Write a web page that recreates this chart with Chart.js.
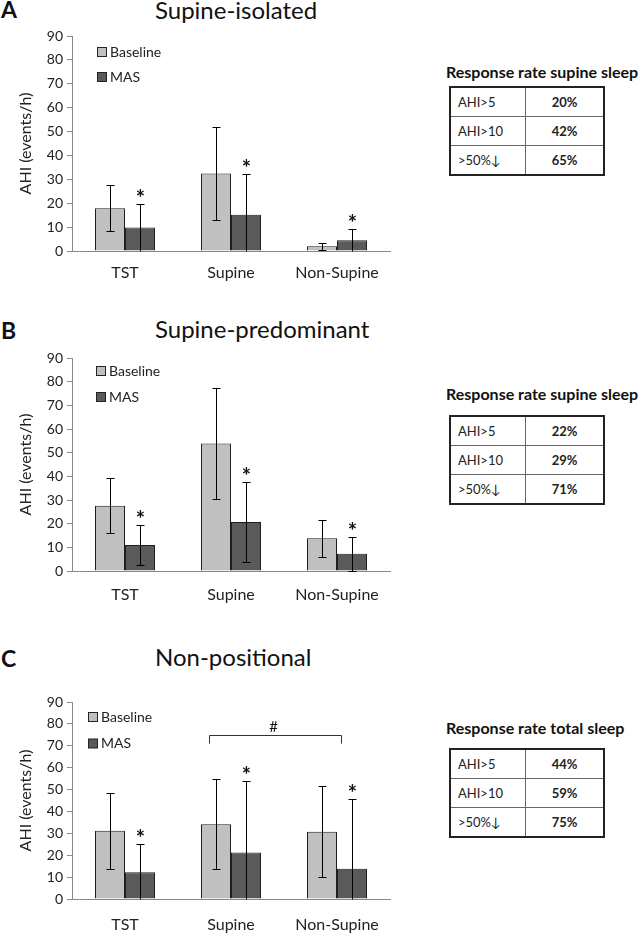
<!DOCTYPE html>
<html>
<head>
<meta charset="utf-8">
<script src="https://cdn.jsdelivr.net/npm/chart.js@4.4.0/dist/chart.umd.min.js"></script>
<style>
    body { margin: 0; width: 642px; height: 933px; position: relative; background: #fff; font-family: Lato, sans-serif; color: #111; overflow: hidden; }
    .letter { position: absolute; left: 1px; font-weight: bold; font-size: 23px; line-height: 1; }
    .title { position: absolute; left: 155px; font-size: 24px; line-height: 1; white-space: nowrap; }
    canvas { position: absolute; left: 0; }
    .rate-title { position: absolute; left: 446px; font-weight: bold; font-size: 16px; line-height: 1; white-space: nowrap; }
    table.rate { position: absolute; left: 449px; width: 156px; border-collapse: collapse; border: 2px solid #222; font-size: 13px; color: #222; }
    table.rate td { border: 1px solid #666; height: 28px; padding: 0 0 0 7px; }
    table.rate td.val { font-weight: bold; text-align: center; padding: 0; width: 77px; }
</style>
</head>
<body>

<div class="letter" style="top:-2px">A</div>
<div class="title" style="top:-2px">Supine-isolated</div>
<canvas id="chartA" width="400" height="275" style="top:16px"></canvas>
<div class="rate-title" style="top:64px">Response rate supine sleep</div>
<table class="rate" id="tableA" style="top:86px"></table>

<div class="letter" style="top:319px">B</div>
<div class="title" style="top:317px">Supine-predominant</div>
<canvas id="chartB" width="400" height="273" style="top:338px"></canvas>
<div class="rate-title" style="top:386px">Response rate supine sleep</div>
<table class="rate" id="tableB" style="top:415px"></table>

<div class="letter" style="top:647px">C</div>
<div class="title" style="top:645px">Non-positional</div>
<canvas id="chartC" width="400" height="251" style="top:682px"></canvas>
<div class="rate-title" style="top:720px">Response rate total sleep</div>
<table class="rate" id="tableC" style="top:748px"></table>

<script>
const categories = ['TST', 'Supine', 'Non-Supine'];
const yTicks = [0, 10, 20, 30, 40, 50, 60, 70, 80, 90];

// A: supine-isolated
const baselineA = [17.9, 32.4, 2.0];
const baselineErrA = [9.7, 19.6, 1.5];
const masA = [9.8, 15.2, 4.5];
const masErrA = [9.9, 17.2, 4.9];
const masSigA = [true, true, true];

// B: supine-predominant
const baselineB = [27.6, 53.9, 13.8];
const baselineErrB = [11.7, 23.4, 7.7];
const masB = [11.0, 20.7, 7.3];
const masErrB = [8.6, 16.7, 7.2];
const masSigB = [true, true, true];

// C: non-positional
const baselineC = [31.2, 34.2, 30.7];
const baselineErrC = [17.4, 20.4, 20.7];
const masC = [12.2, 21.3, 13.8];
const masErrC = [12.9, 32.7, 31.9];
const masSigC = [true, true, true];

const responseLabels = ['AHI>5', 'AHI>10', '>50%\u2193'];
const responseA = ['20%', '42%', '65%'];
const responseB = ['22%', '29%', '71%'];
const responseC = ['44%', '59%', '75%'];

const errorBarPlugin = {
    id: 'errorBars',
    afterDatasetsDraw(chart) {
        const ctx = chart.ctx;
        const yScale = chart.scales.y;
        chart.data.datasets.forEach((ds, di) => {
            const meta = chart.getDatasetMeta(di);
            meta.data.forEach((bar, i) => {
                const v = ds.data[i];
                const e = ds.errors[i];
                const low = Math.max(v - e, 0);
                const top = Math.round(yScale.getPixelForValue(v + e)) + 0.5;
                const bottom = Math.round(yScale.getPixelForValue(low)) + 0.5;
                const x = Math.round(bar.x) + 0.5;
                ctx.save();
                ctx.strokeStyle = '#000';
                ctx.lineWidth = 1;
                ctx.beginPath();
                ctx.moveTo(x, top);
                ctx.lineTo(x, bottom);
                ctx.moveTo(x - 4, top);
                ctx.lineTo(x + 4, top);
                if (low > 0) {
                    ctx.moveTo(x - 4, bottom);
                    ctx.lineTo(x + 4, bottom);
                }
                ctx.stroke();
                if (ds.significant && ds.significant[i]) {
                    ctx.fillStyle = '#111';
                    ctx.font = 'bold 22px Lato';
                    ctx.textAlign = 'center';
                    ctx.textBaseline = 'middle';
                    ctx.fillText('*', x, top - 6);
                }
                ctx.restore();
            });
        });
    }
};

const boxLegendPlugin = {
    id: 'boxLegend',
    afterDraw(chart, args, opts) {
        const ctx = chart.ctx;
        ctx.save();
        chart.data.datasets.forEach((ds, i) => {
            const cy = opts.y + i * opts.gap;
            ctx.fillStyle = ds.backgroundColor;
            ctx.strokeStyle = '#222';
            ctx.lineWidth = 1;
            ctx.fillRect(opts.x + 0.5, cy - 4.5, 9, 9);
            ctx.strokeRect(opts.x + 0.5, cy - 4.5, 9, 9);
            ctx.fillStyle = '#222';
            ctx.font = '14px Lato';
            ctx.textAlign = 'left';
            ctx.textBaseline = 'middle';
            ctx.fillText(ds.label, opts.x + 13, cy);
        });
        ctx.restore();
    }
};

const bracketPlugin = {
    id: 'bracket',
    afterDatasetsDraw(chart, args, opts) {
        if (!opts || !opts.label) return;
        const ctx = chart.ctx;
        const yScale = chart.scales.y;
        const baseBars = chart.getDatasetMeta(0).data;
        const masBars = chart.getDatasetMeta(1).data;
        const left = Math.round(baseBars[opts.from].x - baseBars[opts.from].width * 0.25) + 0.5;
        const right = Math.round(masBars[opts.to].x - masBars[opts.to].width * 0.38) + 0.5;
        const y = Math.round(yScale.getPixelForValue(opts.value)) + 0.5;
        const yEnd = yScale.getPixelForValue(opts.value - opts.drop);
        ctx.save();
        ctx.strokeStyle = '#333';
        ctx.lineWidth = 1;
        ctx.beginPath();
        ctx.moveTo(left, yEnd);
        ctx.lineTo(left, y);
        ctx.lineTo(right, y);
        ctx.lineTo(right, yEnd);
        ctx.stroke();
        ctx.fillStyle = '#111';
        ctx.font = '15px Lato';
        ctx.textAlign = 'center';
        ctx.textBaseline = 'middle';
        ctx.fillText(opts.label, (left + right) / 2 - 2, y - 8);
        ctx.restore();
    }
};

function MakeChart(id, baseline, baselineErr, mas, masErr, masSig, cfg) {
    const ctx = document.getElementById(id).getContext('2d');
    return new Chart(ctx, {
        type: 'bar',
        data: {
            labels: categories,
            datasets: [{
                label: 'Baseline',
                data: baseline,
                errors: baselineErr,
                backgroundColor: '#c0c0c0',
                borderColor: '#1e1e1e',
                borderWidth: 1,
                categoryPercentage: 0.566,
                barPercentage: 1.0
            }, {
                label: 'MAS',
                data: mas,
                errors: masErr,
                significant: masSig,
                backgroundColor: '#5a5a5a',
                borderColor: '#1e1e1e',
                borderWidth: 1,
                categoryPercentage: 0.566,
                barPercentage: 1.0
            }]
        },
        options: {
            responsive: false,
            animation: false,
            layout: { padding: { top: 20, right: 10, left: 0, bottom: 0 } },
            plugins: {
                legend: { display: false },
                tooltip: { enabled: false },
                boxLegend: cfg.legend,
                bracket: cfg.bracket || {}
            },
            scales: {
                x: {
                    grid: { display: false, drawTicks: false },
                    border: { display: true, color: '#888', width: 1 },
                    ticks: { color: '#222', font: { family: 'Lato', size: 16 }, padding: cfg.labelPad },
                    afterFit: function (scale) { scale.height = cfg.axisHeight; }
                },
                y: {
                    min: yTicks[0],
                    max: yTicks[yTicks.length - 1],
                    ticks: { stepSize: yTicks[1] - yTicks[0], color: '#222', font: { family: 'Lato', size: 14 }, padding: 4 },
                    grid: { drawOnChartArea: false, drawTicks: true, tickLength: 5, color: '#888' },
                    border: { display: true, color: '#888', width: 1 },
                    title: { display: true, text: 'AHI (events/h)', color: '#222', font: { family: 'Lato', size: 16 }, padding: { top: 16, bottom: 0 } },
                    afterFit: function (scale) { scale.width = 72; }
                }
            }
        },
        plugins: [errorBarPlugin, boxLegendPlugin, bracketPlugin]
    });
}

function FillTable(id, values) {
    const table = document.getElementById(id);
    responseLabels.forEach((label, i) => {
        const row = table.insertRow();
        const c1 = row.insertCell();
        c1.textContent = label;
        const c2 = row.insertCell();
        c2.textContent = values[i];
        c2.className = 'val';
    });
}

MakeChart('chartA', baselineA, baselineErrA, masA, masErrA, masSigA, {
    labelPad: 12, axisHeight: 40, legend: { x: 97, y: 36, gap: 25 }
});
MakeChart('chartB', baselineB, baselineErrB, masB, masErrB, masSigB, {
    labelPad: 14, axisHeight: 40, legend: { x: 96, y: 33, gap: 26 }
});
MakeChart('chartC', baselineC, baselineErrC, masC, masErrC, masSigC, {
    labelPad: 16, axisHeight: 34, legend: { x: 88, y: 35, gap: 26.5 },
    bracket: { from: 1, to: 2, value: 75, drop: 4, label: '#' }
});

FillTable('tableA', responseA);
FillTable('tableB', responseB);
FillTable('tableC', responseC);
</script>
</body>
</html>
